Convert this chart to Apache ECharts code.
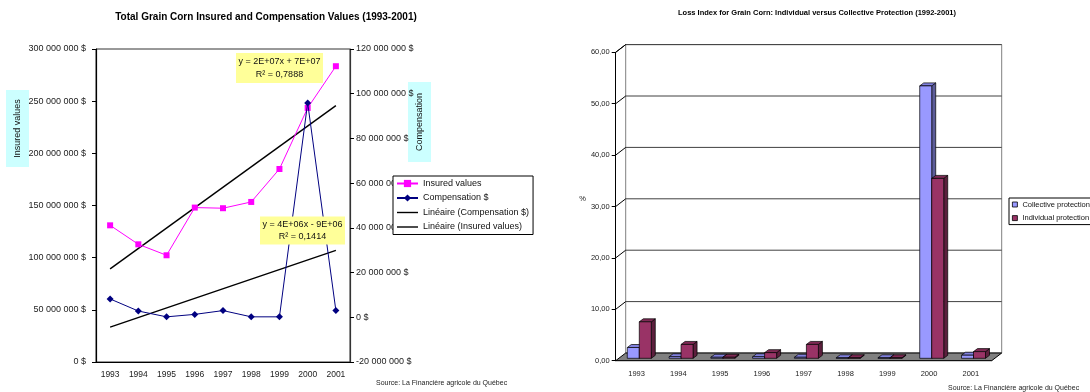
<!DOCTYPE html>
<html>
<head>
<meta charset="utf-8">
<script src="https://cdn.jsdelivr.net/npm/echarts@6/dist/echarts.min.js"></script>
<style>
  html, body { margin: 0; padding: 0; background: #fff; }
  #chart { width: 1090px; height: 392px; }
</style>
</head>
<body>
<div id="chart"></div>
<script>
// ---- Data ----
const years = ['1993', '1994', '1995', '1996', '1997', '1998', '1999', '2000', '2001'];

// Left chart: dollars
const insuredValues = [131000000, 112800000, 102300000, 148000000, 147400000, 153400000, 185000000, 243500000, 283500000];
const compensation = [8200000, 2800000, 200000, 1300000, 3000000, 200000, 200000, 95900000, 3000000];

// Linear trend lines, start (1993) and end (2001) values
const insuredTrend = [89300000, 245700000];
const compensationTrend = [-4400000, 29900000];

const insuredEquation = ['y = 2E+07x + 7E+07', 'R² = 0,7888'];
const compensationEquation = ['y = 4E+06x - 9E+06', 'R² = 0,1414'];

// Right chart: loss index, %
const collectiveProtection = [2.1, 0.3, 0.2, 0.3, 0.2, 0.1, 0.1, 53.0, 0.6];
const individualProtection = [7.1, 2.7, 0.2, 1.1, 2.7, 0.1, 0.1, 35.0, 1.3];
const lossTicks = [0, 10, 20, 30, 40, 50, 60];

// ---- Helpers ----
const FONT = "'Liberation Sans', Arial, sans-serif";
const LINE_ICON = 'path://M0,0h30v2h-30z';

function money(v) {
  const s = Math.abs(v).toString().replace(/\B(?=(\d{3})+(?!\d))/g, ' ');
  return (v < 0 ? '-' : '') + s + ' $';
}
function pct(v) {
  return v.toFixed(2).replace('.', ',');
}

// 3D look of the loss-index chart
const WALL_DX = 10, WALL_DY = -7.7;   // depth of the back wall
const BAR_SX = 2.7, BAR_SY = -2.4;    // where the bars sit inside the floor
const BAR_W = 12;                      // front face width of one bar
const BAR_DX = 4, BAR_DY = -3;        // bar depth

function renderWall(params, api) {
  const cs = params.coordSys;
  const v = api.value(1);
  const y = api.coord([0, v])[1];
  const x0 = cs.x, x1 = cs.x + cs.width;
  const children = [];
  if (params.dataIndex === 0) {
    const top = cs.y, bottom = cs.y + cs.height;
    // back wall
    children.push({
      type: 'rect',
      shape: { x: x0 + WALL_DX, y: top + WALL_DY, width: cs.width, height: cs.height },
      style: { fill: '#fff', stroke: '#808080', lineWidth: 1 }
    });
    // floor
    children.push({
      type: 'polygon',
      shape: { points: [[x0, bottom], [x1, bottom], [x1 + WALL_DX, bottom + WALL_DY], [x0 + WALL_DX, bottom + WALL_DY]] },
      style: { fill: '#808080', stroke: '#000', lineWidth: 1 }
    });
    // top edge of the side wall
    children.push({
      type: 'line',
      shape: { x1: x0, y1: top, x2: x0 + WALL_DX, y2: top + WALL_DY },
      style: { stroke: '#000', lineWidth: 1 }
    });
  }
  if (v > 0) {
    children.push({
      type: 'line',
      shape: { x1: x0 + WALL_DX, y1: y + WALL_DY, x2: x1 + WALL_DX, y2: y + WALL_DY },
      style: { stroke: '#404040', lineWidth: 1 }
    });
    children.push({
      type: 'line',
      shape: { x1: x0, y1: y, x2: x0 + WALL_DX, y2: y + WALL_DY },
      style: { stroke: '#000', lineWidth: 1 }
    });
  }
  return { type: 'group', children: children };
}

function makeBarRenderer(slot, front, top, side) {
  return function (params, api) {
    const idx = api.value(0);
    const val = api.value(1);
    const base = api.coord([idx, 0]);
    const peak = api.coord([idx, val]);
    const xl = base[0] + BAR_SX - BAR_W + slot * BAR_W;
    const xr = xl + BAR_W;
    const yb = base[1] + BAR_SY;
    const yt = peak[1] + BAR_SY;
    const edge = { stroke: '#000', lineWidth: 0.7 };
    return {
      type: 'group',
      children: [
        {
          type: 'polygon',
          shape: { points: [[xr, yt], [xr + BAR_DX, yt + BAR_DY], [xr + BAR_DX, yb + BAR_DY], [xr, yb]] },
          style: Object.assign({ fill: side }, edge)
        },
        {
          type: 'polygon',
          shape: { points: [[xl, yt], [xl + BAR_DX, yt + BAR_DY], [xr + BAR_DX, yt + BAR_DY], [xr, yt]] },
          style: Object.assign({ fill: top }, edge)
        },
        {
          type: 'rect',
          shape: { x: xl, y: yt, width: BAR_W, height: yb - yt },
          style: Object.assign({ fill: front }, edge)
        }
      ]
    };
  };
}

const chart = echarts.init(document.getElementById('chart'));

const option = {
  animation: false,
  textStyle: { fontFamily: FONT },
  grid: [
    { left: 96, right: 740, top: 49, bottom: 30, show: true, borderColor: '#333', borderWidth: 1, outerBoundsMode: 'none' },
    { left: 615.7, right: 98.3, top: 52.3, bottom: 31.3, outerBoundsMode: 'none' }
  ],
  xAxis: [
    {
      gridIndex: 0, type: 'category', data: years, boundaryGap: true,
      axisLine: { lineStyle: { color: '#000', width: 1.2 } },
      axisTick: { length: 4, lineStyle: { color: '#000' } },
      axisLabel: { color: '#222', fontSize: 8.5, margin: 8 }
    },
    {
      gridIndex: 1, type: 'category', data: years, boundaryGap: true,
      axisLine: { lineStyle: { color: '#000', width: 1 } },
      axisTick: { length: 5, lineStyle: { color: '#000' } },
      axisLabel: { color: '#222', fontSize: 7.5, margin: 9 }
    }
  ],
  yAxis: [
    {
      gridIndex: 0, type: 'value', min: 0, max: 300000000, interval: 50000000,
      axisLine: { show: true, lineStyle: { color: '#000', width: 1.2 } },
      axisTick: { show: true, length: 4, lineStyle: { color: '#000' } },
      axisLabel: { color: '#222', fontSize: 9, margin: 10, formatter: money },
      splitLine: { show: false }
    },
    {
      gridIndex: 0, type: 'value', position: 'right', min: -20000000, max: 120000000, interval: 20000000,
      axisLine: { show: true, lineStyle: { color: '#333', width: 1.2 } },
      axisTick: { show: true, inside: false, length: 4, lineStyle: { color: '#000' } },
      axisLabel: { color: '#222', fontSize: 9, margin: 6, formatter: money },
      splitLine: { show: false }
    },
    {
      gridIndex: 1, type: 'value', min: 0, max: 60, interval: 10,
      axisLine: { show: true, lineStyle: { color: '#000', width: 1 } },
      axisTick: { show: true, length: 4, lineStyle: { color: '#000' } },
      axisLabel: { color: '#222', fontSize: 7.5, margin: 6, formatter: pct },
      splitLine: { show: false }
    }
  ],
  legend: [
    {
      left: 393, top: 176, orient: 'vertical',
      itemWidth: 21, itemHeight: 9, itemGap: 5.5,
      padding: [3, 4, 3, 3],
      backgroundColor: '#fff', borderColor: '#000', borderWidth: 1,
      textStyle: { fontSize: 9, color: '#111', lineHeight: 9, fontFamily: FONT },
      data: [
        'Insured values',
        'Compensation $',
        { name: 'Linéaire (Compensation $)', icon: LINE_ICON },
        { name: 'Linéaire (Insured values)', icon: LINE_ICON }
      ]
    },
    {
      left: 1009, top: 198, orient: 'vertical',
      icon: 'rect', itemWidth: 5, itemHeight: 5, itemGap: 4.6,
      padding: [2, 3, 2, 3],
      backgroundColor: '#fff', borderColor: '#000', borderWidth: 1,
      itemStyle: { borderColor: '#000', borderWidth: 0.8 },
      textStyle: { fontSize: 7.5, color: '#111', lineHeight: 9, fontFamily: FONT },
      data: ['Collective protection', 'Individual protection']
    }
  ],
  series: [
    {
      name: 'Insured values', type: 'line', xAxisIndex: 0, yAxisIndex: 0,
      data: insuredValues,
      symbol: 'rect', symbolSize: 6,
      itemStyle: { color: '#ff00ff' },
      lineStyle: { color: '#ff00ff', width: 1 },
      z: 3
    },
    {
      name: 'Compensation $', type: 'line', xAxisIndex: 0, yAxisIndex: 1,
      data: compensation,
      symbol: 'diamond', symbolSize: 7,
      itemStyle: { color: '#000080' },
      lineStyle: { color: '#000080', width: 1 },
      z: 4
    },
    {
      name: 'Linéaire (Compensation $)', type: 'line', xAxisIndex: 0, yAxisIndex: 1,
      data: [[years[0], compensationTrend[0]], [years[years.length - 1], compensationTrend[1]]],
      symbol: 'none',
      itemStyle: { color: '#000' },
      lineStyle: { color: '#000', width: 1.4 },
      z: 2
    },
    {
      name: 'Linéaire (Insured values)', type: 'line', xAxisIndex: 0, yAxisIndex: 0,
      data: [[years[0], insuredTrend[0]], [years[years.length - 1], insuredTrend[1]]],
      symbol: 'none',
      itemStyle: { color: '#000' },
      lineStyle: { color: '#000', width: 1.4 },
      z: 2
    },
    {
      name: 'wall', type: 'custom', xAxisIndex: 1, yAxisIndex: 2,
      data: lossTicks.map(function (v) { return [0, v]; }),
      renderItem: renderWall,
      silent: true, z: 1
    },
    {
      name: 'Collective protection', type: 'custom', xAxisIndex: 1, yAxisIndex: 2,
      data: collectiveProtection.map(function (v, i) { return [i, v]; }),
      itemStyle: { color: '#9999ff' },
      renderItem: makeBarRenderer(0, '#9999ff', '#8080dd', '#5c5c99'),
      z: 3
    },
    {
      name: 'Individual protection', type: 'custom', xAxisIndex: 1, yAxisIndex: 2,
      data: individualProtection.map(function (v, i) { return [i, v]; }),
      itemStyle: { color: '#993366' },
      renderItem: makeBarRenderer(1, '#993366', '#7f2a55', '#5c1f3d'),
      z: 4
    }
  ],
  graphic: [
    // titles
    {
      type: 'text', x: 266, y: 17,
      style: { text: 'Total Grain Corn Insured and Compensation Values (1993-2001)', font: 'bold 10px ' + FONT, fill: '#000', align: 'center', verticalAlign: 'middle' }
    },
    {
      type: 'text', x: 817, y: 13,
      style: { text: 'Loss Index for Grain Corn: Individual versus Collective Protection (1992-2001)', font: 'bold 7.5px ' + FONT, fill: '#000', align: 'center', verticalAlign: 'middle' }
    },
    // axis titles on cyan panels
    {
      type: 'group', x: 17.5, y: 128.5,
      children: [
        { type: 'rect', shape: { x: -11.5, y: -38.5, width: 23, height: 77 }, style: { fill: '#ccffff' } },
        { type: 'text', rotation: Math.PI / 2, style: { text: 'Insured values', font: '9px ' + FONT, fill: '#111', align: 'center', verticalAlign: 'middle' } }
      ]
    },
    {
      type: 'group', x: 419.5, y: 122,
      children: [
        { type: 'rect', shape: { x: -11.5, y: -40, width: 23, height: 80 }, style: { fill: '#ccffff' } },
        { type: 'text', rotation: Math.PI / 2, style: { text: 'Compensation', font: '9px ' + FONT, fill: '#111', align: 'center', verticalAlign: 'middle' } }
      ]
    },
    // trend line equations, drawn above the plotted lines
    {
      type: 'group', x: 279.5, y: 68,
      children: [
        { type: 'rect', z: 100, shape: { x: -43.5, y: -15, width: 87, height: 30 }, style: { fill: '#ffff99' } },
        { type: 'text', z: 101, style: { text: insuredEquation.join('\n'), font: '9px ' + FONT, lineHeight: 12.3, fill: '#111', align: 'center', verticalAlign: 'middle' } }
      ]
    },
    {
      type: 'group', x: 302.5, y: 230.5,
      children: [
        { type: 'rect', z: 100, shape: { x: -42.5, y: -14, width: 85, height: 28 }, style: { fill: '#ffff99' } },
        { type: 'text', z: 101, style: { text: compensationEquation.join('\n'), font: '9px ' + FONT, lineHeight: 12.5, fill: '#111', align: 'center', verticalAlign: 'middle' } }
      ]
    },
    // percent sign on loss axis
    {
      type: 'text', x: 586, y: 199,
      style: { text: '%', font: '7.5px ' + FONT, fill: '#222', align: 'right', verticalAlign: 'middle' }
    },
    // sources
    {
      type: 'text', x: 376, y: 383,
      style: { text: 'Source: La Financière agricole du Québec', font: '7px ' + FONT, fill: '#222', align: 'left', verticalAlign: 'middle' }
    },
    {
      type: 'text', x: 948, y: 388,
      style: { text: 'Source: La Financière agricole du Québec', font: '7px ' + FONT, fill: '#222', align: 'left', verticalAlign: 'middle' }
    }
  ]
};

chart.setOption(option);
</script>
</body>
</html>
